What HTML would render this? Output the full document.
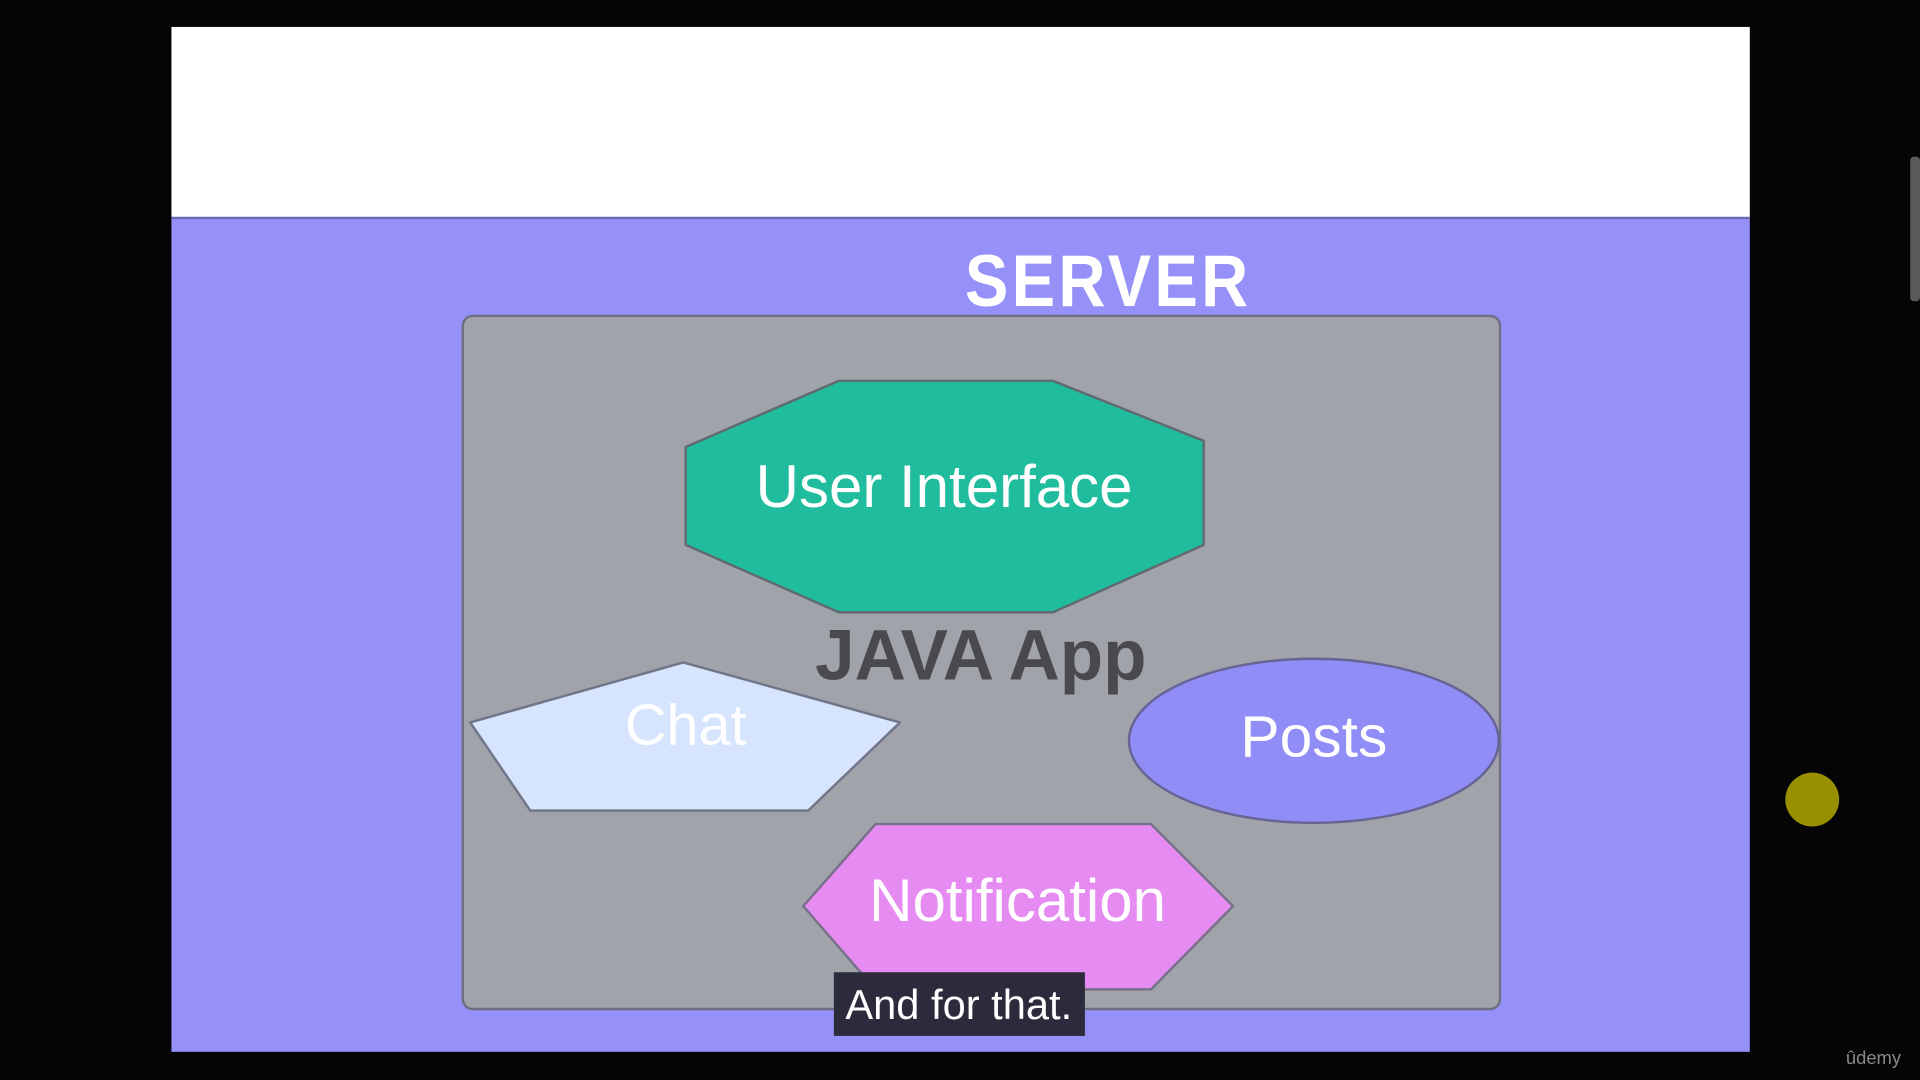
<!DOCTYPE html>
<html><head><meta charset="utf-8"><style>
html,body{margin:0;padding:0;background:#000;width:1920px;height:1080px;overflow:hidden}
svg{display:block}
text{font-family:"Liberation Sans",sans-serif}
</style></head><body>
<svg width="1920" height="1080" viewBox="0 0 1568 882" xmlns="http://www.w3.org/2000/svg">
<rect width="1568" height="882" fill="#050507"/>
<rect x="140" y="22" width="1289" height="157" fill="#ffffff"/>
<rect x="140" y="178" width="1289" height="681" fill="#9591f9"/>
<line x1="140" y1="178" x2="1429" y2="178" stroke="#6d6ab5" stroke-width="2"/>
<text x="905" y="250" font-size="60" fill="#fff" text-anchor="middle" font-weight="bold" letter-spacing="3" textLength="234" lengthAdjust="spacingAndGlyphs" font-family="DejaVu Sans, sans-serif">SERVER</text>
<rect x="378" y="258" width="847" height="566" rx="8" fill="#a1a3ab" stroke="#6e6f80" stroke-width="2"/>
<polygon points="560,365 685,311 860,311 983,360 983,445 860,500 685,500 560,445" fill="#1fbd9d" stroke="#5f6b70" stroke-width="2" stroke-linejoin="round"/>
<text x="771" y="414" font-size="49" fill="#fff" text-anchor="middle">User Interface</text>
<text x="801" y="555" font-size="58" fill="#4a4a4e" text-anchor="middle" font-weight="bold">JAVA App</text>
<polygon points="384,590 558,541 735,590 660,662 433,662" fill="#d6e4fd" stroke="#707588" stroke-width="2" stroke-linejoin="round"/>
<text x="560" y="608" font-size="47" fill="#fff" text-anchor="middle">Chat</text>
<ellipse cx="1073" cy="605" rx="151" ry="67" fill="#908df6" stroke="#666494" stroke-width="2"/>
<text x="1073" y="618" font-size="48" fill="#fff" text-anchor="middle">Posts</text>
<polygon points="656,740 715,673 940,673 1007,740 940,808 715,808" fill="#e58bf1" stroke="#777088" stroke-width="2" stroke-linejoin="round"/>
<text x="831" y="752" font-size="49" fill="#fff" text-anchor="middle">Notification</text>
<rect x="681" y="794" width="205" height="52" fill="#2b2b3b"/>
<text x="783" y="832" font-size="34" fill="#fff" text-anchor="middle">And for that.</text>
<circle cx="1480" cy="653" r="22" fill="#a8a000" opacity="0.9"/>
<rect x="1560" y="128" width="8" height="118" rx="3" fill="#5a5a5a"/>
<text x="1530" y="869" font-size="15" fill="#888" text-anchor="middle">ûdemy</text>
</svg>
</body></html>
